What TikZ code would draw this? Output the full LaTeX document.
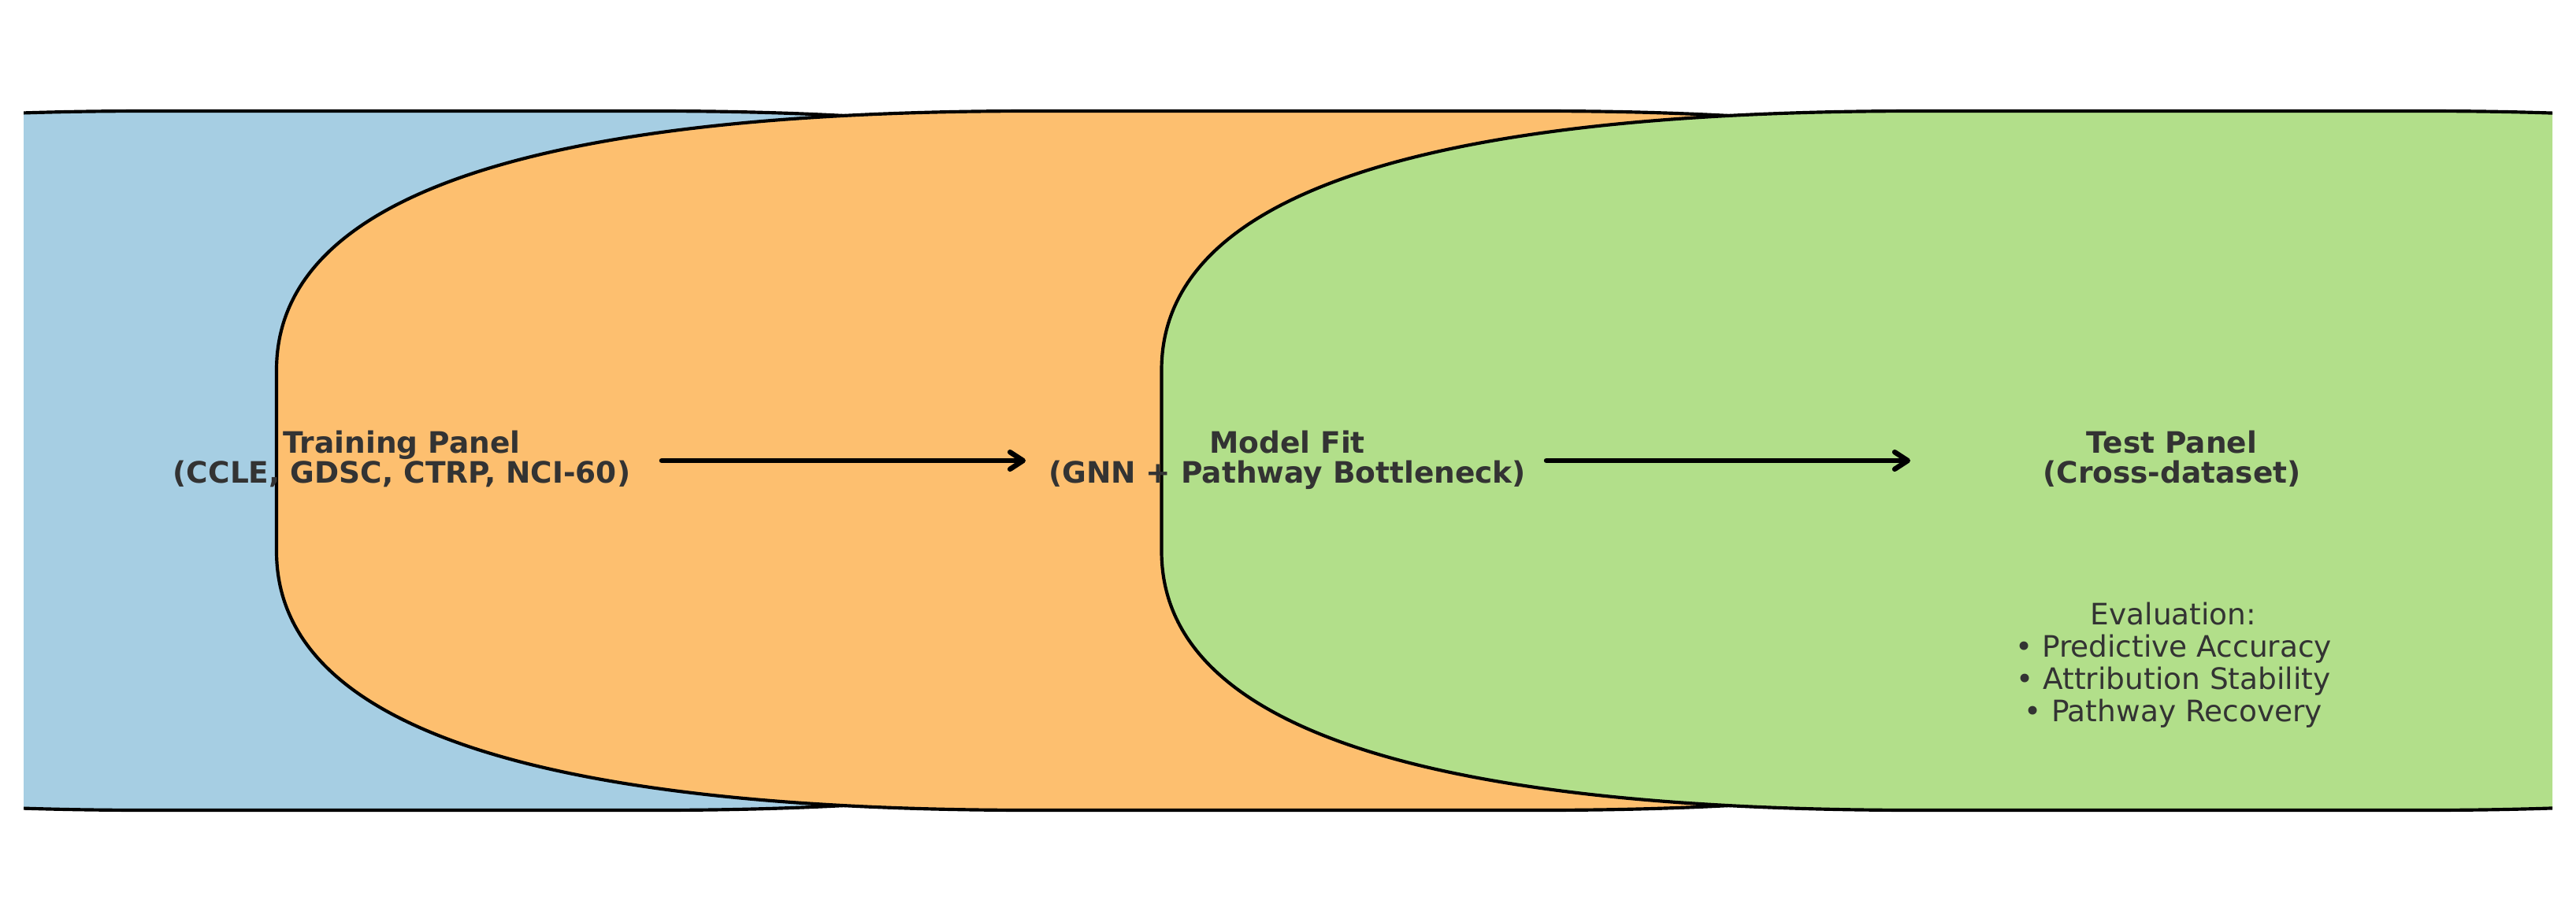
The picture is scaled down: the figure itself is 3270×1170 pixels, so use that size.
\documentclass[tikz,border=0pt]{standalone}
\usepackage{fontspec}
\setmainfont{DejaVu Sans}
\usetikzlibrary{arrows.meta}
\definecolor{pblue}{HTML}{A6CEE3}
\definecolor{porange}{HTML}{FDBF6F}
\definecolor{pgreen}{HTML}{B2DF8A}
\definecolor{txtgray}{HTML}{333333}
\newcommand\panelshape[2]{%
  \filldraw[panel, fill=#2] ({#1+960},141) -- ({#1+1603},141)
    .. controls ({#1+2243},141) and ({#1+2563},250.667) .. ({#1+2563},470)
    -- ({#1+2563},700)
    .. controls ({#1+2563},919.333) and ({#1+2243},1029) .. ({#1+1603},1029)
    -- ({#1+960},1029)
    .. controls ({#1+320},1029) and (#1,919.333) .. (#1,700)
    -- (#1,470)
    .. controls (#1,250.667) and ({#1+320},141) .. ({#1+960},141) -- cycle;}
\tikzset{
  panel/.style={draw=black, line width=1.0pt, line join=round},
  titletext/.style={font=\bfseries\fontsize{9pt}{9.2pt}\selectfont, text=txtgray, align=center, inner sep=0pt, anchor=base},
  evaltext/.style={font=\fontsize{9pt}{9.86pt}\selectfont, text=txtgray, align=center, inner sep=0pt, anchor=base},
  flow/.style={draw=black, line width=1.55pt, line cap=round, -{Straight Barb[length=4pt, width=5.2pt, round]}}
}
\begin{document}
\begin{tikzpicture}[x=0.24pt, y=-0.24pt]
\useasboundingbox (0,0) rectangle (3270,1170);
\begin{scope}
  \clip (30,0) rectangle (3240,1170);
  \panelshape{-772.5}{pblue}
  \panelshape{351}{porange}
  \panelshape{1474.5}{pgreen}
\end{scope}
\node[titletext] (train) at (510,613.5) {Training Panel\\(CCLE, GDSC, CTRP, NCI-60)};
\node[titletext] (fit) at (1634,613.5) {Model Fit\\(GNN + Pathway Bottleneck)};
\node[titletext] (test) at (2757,613.5) {Test Panel\\(Cross-dataset)};
\node[evaltext] (eval) at (2759,916.6) {Evaluation:\\• Predictive Accuracy\\• Attribution Stability\\• Pathway Recovery};
\coordinate (a1s) at (840,585);
\coordinate (a1e) at (1302,585);
\coordinate (a2s) at (1963,585);
\coordinate (a2e) at (2425,585);
\draw[flow] (a1s) -- (a1e);
\draw[flow] (a2s) -- (a2e);
\end{tikzpicture}
\end{document}
